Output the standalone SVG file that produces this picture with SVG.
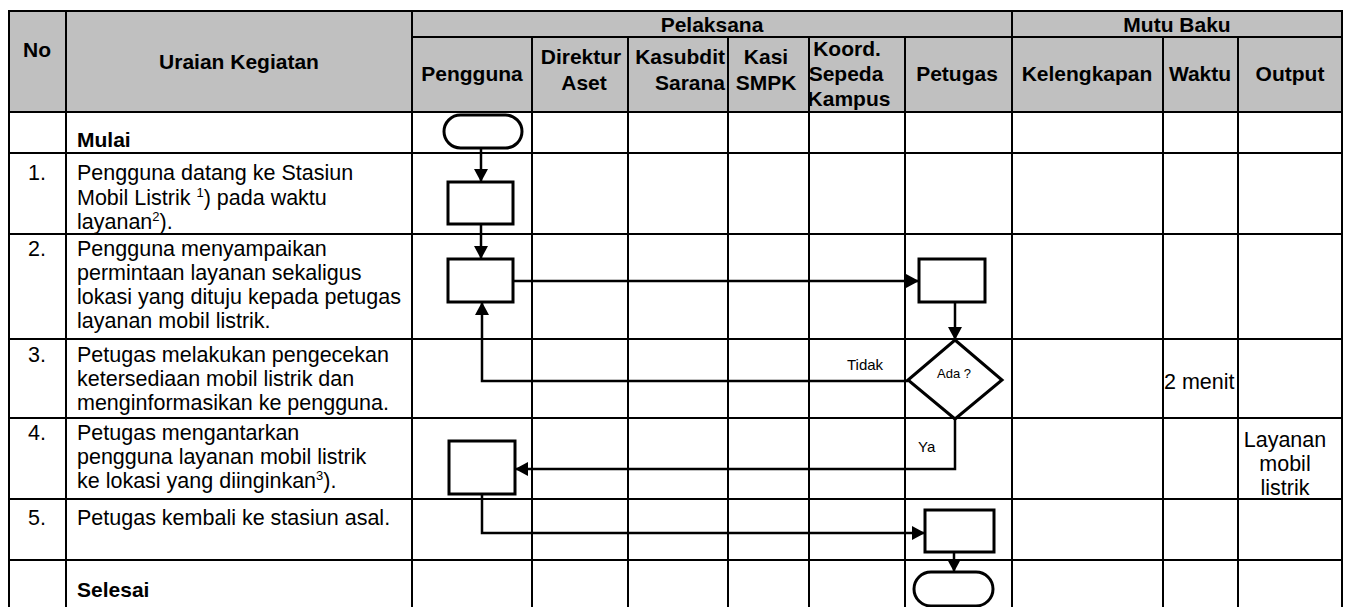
<svg xmlns="http://www.w3.org/2000/svg" width="1348" height="607" viewBox="0 0 1348 607">
<style>
text{font-family:"Liberation Sans",Arial,sans-serif;fill:#000}
.h{font-size:21px;font-weight:bold}
.hm{font-size:21px;font-weight:bold;text-anchor:middle}
.b{font-size:21.5px}
.bm{font-size:21.5px;text-anchor:middle}
.lbl{font-size:15px}
.dl{font-size:13px;text-anchor:middle}
.sup{font-size:13px}
.grid line{stroke:#000;stroke-width:2}
.shape{fill:#fff;stroke:#000;stroke-width:3}
.conn{fill:none;stroke:#000;stroke-width:2.5;marker-end:url(#ah)}
</style>
<defs>
<marker id="ah" viewBox="0 0 13 14" refX="13" refY="7" markerWidth="13" markerHeight="14" markerUnits="userSpaceOnUse" orient="auto">
<path d="M0,0 L13,7 L0,14 z" fill="#000"/>
</marker>
</defs>
<rect x="0" y="0" width="1348" height="607" fill="#fff"/>
<g id="table">
<rect x="9" y="11" width="1333" height="101" fill="#c0c0c0"/>
<g class="grid">
<line x1="8" y1="11" x2="1343" y2="11"/>
<line x1="412" y1="37" x2="1342" y2="37"/>
<line x1="8" y1="112" x2="1343" y2="112"/>
<line x1="8" y1="153" x2="1343" y2="153"/>
<line x1="8" y1="234" x2="1343" y2="234"/>
<line x1="8" y1="339" x2="1343" y2="339"/>
<line x1="8" y1="418" x2="1343" y2="418"/>
<line x1="8" y1="499" x2="1343" y2="499"/>
<line x1="8" y1="560" x2="1343" y2="560"/>
<line x1="9" y1="10" x2="9" y2="607"/>
<line x1="66" y1="11" x2="66" y2="607"/>
<line x1="412" y1="11" x2="412" y2="607"/>
<line x1="1012" y1="11" x2="1012" y2="607"/>
<line x1="1342" y1="10" x2="1342" y2="607"/>
<line x1="532" y1="37" x2="532" y2="607"/>
<line x1="628" y1="37" x2="628" y2="607"/>
<line x1="728" y1="37" x2="728" y2="607"/>
<line x1="809" y1="37" x2="809" y2="607"/>
<line x1="905" y1="37" x2="905" y2="607"/>
<line x1="1163" y1="37" x2="1163" y2="607"/>
<line x1="1238" y1="37" x2="1238" y2="607"/>
</g>
<g id="header-text">
<text class="hm" x="37" y="57">No</text>
<text class="hm" x="239" y="69">Uraian Kegiatan</text>
<text class="hm" x="712" y="32">Pelaksana</text>
<text class="hm" x="1177" y="32">Mutu Baku</text>
<text class="hm" x="472" y="81">Pengguna</text>
<text class="hm" x="581" y="64">Direktur</text>
<text class="hm" x="584" y="90">Aset</text>
<text class="h" x="725" y="64" text-anchor="end">Kasubdit</text>
<text class="h" x="725" y="90" text-anchor="end">Sarana</text>
<text class="hm" x="766" y="64">Kasi</text>
<text class="hm" x="766" y="90">SMPK</text>
<text class="hm" x="847" y="56">Koord.</text>
<text class="hm" x="846" y="81">Sepeda</text>
<text class="hm" x="849" y="106">Kampus</text>
<text class="hm" x="957" y="81">Petugas</text>
<text class="hm" x="1087" y="81">Kelengkapan</text>
<text class="hm" x="1200" y="81">Waktu</text>
<text class="hm" x="1290" y="81">Output</text>
</g>
<g id="rows-text">
<text class="h" x="77" y="147">Mulai</text>
<text class="bm" x="37" y="180">1.</text>
<text class="b" x="77" y="180">Pengguna datang ke Stasiun</text>
<text class="b" x="77" y="205">Mobil Listrik <tspan class="sup" dy="-8">1</tspan><tspan dy="8">) pada waktu</tspan></text>
<text class="b" x="77" y="229">layanan<tspan class="sup" dy="-8">2</tspan><tspan dy="8">).</tspan></text>
<text class="bm" x="37" y="256">2.</text>
<text class="b" x="77" y="256">Pengguna menyampaikan</text>
<text class="b" x="77" y="280">permintaan layanan sekaligus</text>
<text class="b" x="77" y="304">lokasi yang dituju kepada petugas</text>
<text class="b" x="77" y="328">layanan mobil listrik.</text>
<text class="bm" x="37" y="362">3.</text>
<text class="b" x="77" y="362">Petugas melakukan pengecekan</text>
<text class="b" x="77" y="386">ketersediaan mobil listrik dan</text>
<text class="b" x="77" y="410">menginformasikan ke pengguna.</text>
<text class="bm" x="37" y="440">4.</text>
<text class="b" x="77" y="440">Petugas mengantarkan</text>
<text class="b" x="77" y="464">pengguna layanan mobil listrik</text>
<text class="b" x="77" y="488">ke lokasi yang diinginkan<tspan class="sup" dy="-8">3</tspan><tspan dy="8">).</tspan></text>
<text class="bm" x="37" y="525">5.</text>
<text class="b" x="77" y="525">Petugas kembali ke stasiun asal.</text>
<text class="h" x="77" y="597">Selesai</text>
<text class="b" x="1164" y="389">2 menit</text>
<text class="bm" x="1285" y="447">Layanan</text>
<text class="bm" x="1285" y="471">mobil</text>
<text class="bm" x="1285" y="495">listrik</text>
</g>
</g>
<g id="connectors">
<line class="conn" x1="481" y1="148" x2="481" y2="182"/>
<line class="conn" x1="481" y1="224" x2="481" y2="259"/>
<line class="conn" x1="513" y1="281" x2="919" y2="281"/>
<line class="conn" x1="955" y1="302" x2="955" y2="340"/>
<polyline class="conn" points="908,381 482,381 482,302"/>
<polyline class="conn" points="955,419 955,469 515,469"/>
<polyline class="conn" points="482,494 482,533 925,533"/>
<line class="conn" x1="954" y1="552" x2="954" y2="572"/>
<text class="lbl" x="847" y="370">Tidak</text>
<text class="lbl" x="918" y="452">Ya</text>
</g>
<g id="start"><rect class="shape" x="444" y="115" width="78" height="33" rx="16.5"/></g>
<g id="step1"><rect class="shape" x="448" y="182" width="65" height="42"/></g>
<g id="step2-pengguna"><rect class="shape" x="448" y="259" width="65" height="43"/></g>
<g id="step2-petugas"><rect class="shape" x="919" y="259" width="66" height="43"/></g>
<g id="decision"><polygon class="shape" points="955,340 1002,380 955,419 908,380"/><text class="dl" x="954" y="378">Ada ?</text></g>
<g id="step4"><rect class="shape" x="449" y="441" width="66" height="53"/></g>
<g id="step5"><rect class="shape" x="925" y="510" width="69" height="42"/></g>
<g id="end"><rect class="shape" x="914" y="572" width="79" height="34" rx="17"/></g>
</svg>
